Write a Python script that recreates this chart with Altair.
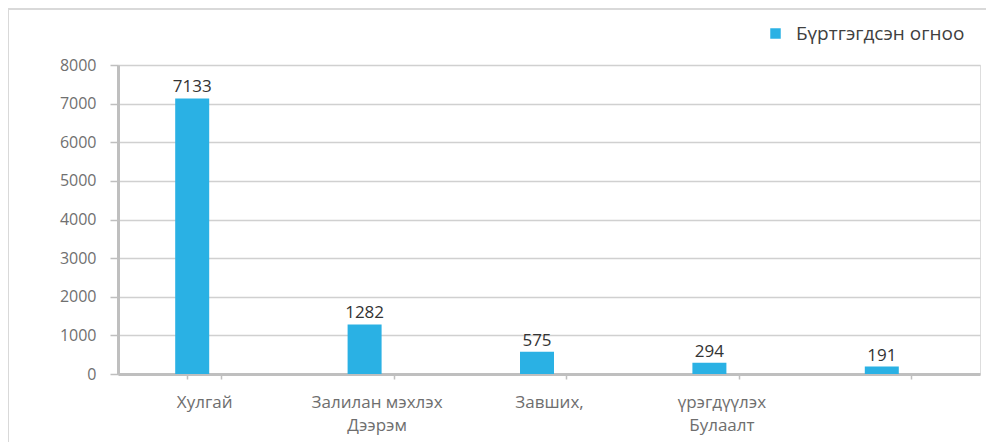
import altair as alt
import pandas as pd

categories = ["Хулгай", "Залилан мэхлэх|Дээрэм", "Завших,", "үрэгдүүлэх|Булаалт", " "]
values = [7133, 1282, 575, 294, 191]
series_name = "Бүртгэгдсэн огноо"
y_ticks = [0, 1000, 2000, 3000, 4000, 5000, 6000, 7000, 8000]

df = pd.DataFrame({"cat": categories, "val": values, "series": [series_name] * len(values)})

W, H = 862, 309
BLUE = "#2AB1E4"
FONT = "Open Sans"
SHIFT = -12

x_enc = alt.X(
    "cat:N", sort=None, title=None,
    scale=alt.Scale(paddingInner=0.8, paddingOuter=0.4),
    axis=alt.Axis(
        labelAngle=0, labelExpr="split(datum.label, '|')", labelFont=FONT,
        labelFontSize=17, labelColor="#6E6E6E", labelPadding=15, labelLineHeight=23,
        labelBaseline="top",
        domainColor="#BFBFBF", domainWidth=3, tickColor="#BFBFBF", tickWidth=1.5,
        tickSize=5, tickBand="extent", grid=False,
    ),
)

y_enc = alt.Y(
    "val:Q", title=None,
    scale=alt.Scale(domain=[0, 8000], nice=False),
    axis=alt.Axis(
        values=y_ticks, tickCount=20, labelOverlap=False, format="d",
        labelFont=FONT, labelFontSize=16, labelColor="#707070", labelPadding=14,
        tickSize=8, tickColor="#BFBFBF", tickWidth=1.5, domainColor="#BFBFBF",
        domainWidth=3, gridColor="#D0D0D0", gridWidth=1.5,
    ),
)

bars = alt.Chart(df).mark_bar(size=34, xOffset=SHIFT).encode(
    x=x_enc,
    y=y_enc,
    color=alt.Color(
        "series:N", scale=alt.Scale(range=[BLUE]),
        legend=alt.Legend(
            orient="none", legendX=648, legendY=-41, title=None, symbolType="square",
            symbolSize=110, symbolStrokeWidth=0, labelFont=FONT, labelFontSize=19,
            labelColor="#404040", padding=0, labelOffset=11, labelLimit=400,
        ),
    ),
)

text = alt.Chart(df).mark_text(
    dy=-11, dx=SHIFT, font=FONT, fontSize=17, color="#333333"
).encode(x=x_enc, y=y_enc, text="val:Q")

frame_left = alt.Chart(df).mark_rule(color="#D9D9D9", strokeWidth=1.5, clip=False).encode(
    x=alt.value(-110), y=alt.value(-56), y2=alt.value(H + 80)
)
frame_top = alt.Chart(df).mark_rule(color="#D9D9D9", strokeWidth=1.5, clip=False).encode(
    x=alt.value(-110), x2=alt.value(W + 10), y=alt.value(-56)
)

chart = alt.layer(frame_left, frame_top, bars, text).properties(
    width=W, height=H,
    autosize=alt.AutoSizeParams(type="none"),
    padding={"left": 110, "top": 57, "right": 6, "bottom": 68},
).configure_view(stroke=None).configure(background="white")

chart.save("out.html", embed_options={"renderer": "svg", "actions": False})
